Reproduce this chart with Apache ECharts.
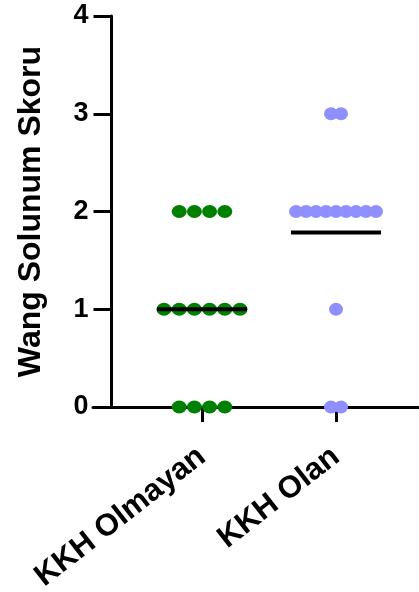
<!DOCTYPE html>
<html><head><meta charset="utf-8">
<script src="https://cdn.jsdelivr.net/npm/echarts@6/dist/echarts.min.js"></script>
<style>html,body{margin:0;padding:0;background:#fff}#c{width:419px;height:592px}</style>
</head><body><div id="c"></div>
<script>
const categories = ['KKH Olmayan', 'KKH Olan'];
const groupOlmayan = [0,0,0,0,1,1,1,1,1,1,2,2,2,2];
const groupOlan = [0,0,1,2,2,2,2,2,2,2,2,2,3,3];
const yTicks = [0,1,2,3,4];
const colors = ['#008000', '#8f8fff'];
const spacing = [15.2, 10];
const sizes = [[15,13],[14,13]];
const FONT = '"Liberation Sans", Arial, sans-serif';

function swarm(values, catIndex, gap) {
  const counts = {};
  values.forEach(v => counts[v] = (counts[v] || 0) + 1);
  const seen = {};
  return values.map(v => {
    seen[v] = (seen[v] === undefined) ? 0 : seen[v] + 1;
    const off = (seen[v] - (counts[v] - 1) / 2) * gap;
    return { value: [catIndex, v], symbolOffset: [off, 0] };
  });
}
const mean = a => a.reduce((s, v) => s + v, 0) / a.length;
const groups = [groupOlmayan, groupOlan];

const chart = echarts.init(document.getElementById('c'), null, {renderer: 'canvas'});
chart.setOption({
  animation: false,
  backgroundColor: '#fff',
  grid: {left: 93, right: 0, top: 16, bottom: 185, containLabel: false, outerBoundsMode: 'none'},
  xAxis: {
    type: 'value', min: -0.8134, max: 1.6194,
    splitLine: {show: false},
    axisLine: {show: true, onZero: false, lineStyle: {color: '#000', width: 3}},
    axisTick: {show: true, customValues: [0, 1], length: 15, lineStyle: {color: '#000', width: 3}},
    axisLabel: {
      customValues: [0, 1], formatter: v => categories[Math.round(v)] || '',
      rotate: 38, margin: 46, fontSize: 31, fontWeight: 'bold', color: '#000', fontFamily: FONT
    }
  },
  yAxis: {
    type: 'value', min: 0, max: 4, interval: 1, offset: -18.5,
    splitLine: {show: false},
    axisLine: {show: true, onZero: false, lineStyle: {color: '#000', width: 3}},
    axisTick: {show: true, length: 18, lineStyle: {color: '#000', width: 3}},
    axisLabel: {margin: 23, fontSize: 27, fontWeight: 'bold', color: '#000', fontFamily: FONT,
      formatter: v => yTicks.includes(v) ? String(v) : ''},
    name: 'Wang Solunum Skoru', nameLocation: 'middle', nameGap: 64,
    nameTextStyle: {fontSize: 32, fontWeight: 'bold', color: '#000', fontFamily: FONT}
  },
  series: [
    ...groups.map((g, i) => ({
      type: 'scatter', clip: false, symbol: 'circle', symbolSize: sizes[i],
      itemStyle: {color: colors[i], opacity: 1},
      data: swarm(g, i, spacing[i]), z: 2
    })),
    {
      type: 'scatter', clip: false, symbol: 'rect', symbolSize: [90, 4],
      itemStyle: {color: '#000', opacity: 1}, z: 5,
      data: groups.map((g, i) => [i, mean(g)])
    }
  ]
});
</script></body></html>
